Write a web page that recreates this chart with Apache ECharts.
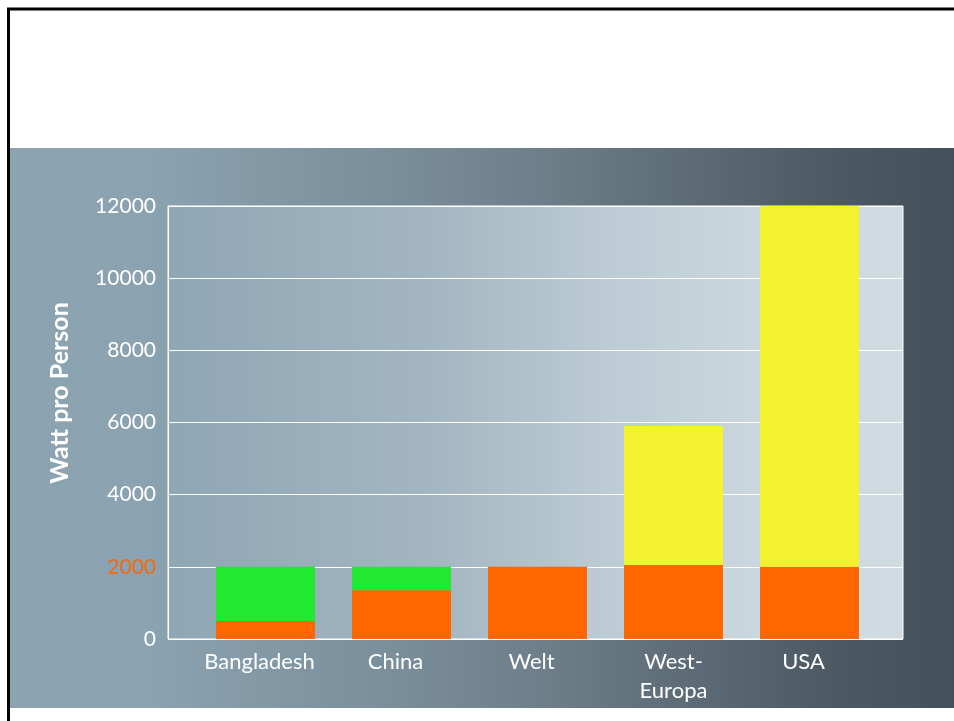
<!DOCTYPE html>
<html>
<head>
<meta charset="utf-8">
<script src="https://cdn.jsdelivr.net/npm/echarts@6/dist/echarts.min.js"></script>
<style>
html,body{margin:0;padding:0;background:#ffffff;}
#chart{width:954px;height:721px;}
</style>
</head>
<body>
<div id="chart"></div>
<script>
// ---- data ----
var categories = ['Bangladesh', 'China', 'Welt', 'West-\nEuropa', 'USA'];
var baseValues = [500, 1350, 2000, 2050, 2000];     // orange
var greenValues = [1500, 650, 0, 0, 0];             // green
var yellowValues = [0, 0, 0, 3850, 10000];          // yellow
var yTicks = [0, 2000, 4000, 6000, 8000, 10000, 12000];
var yAxisTitle = 'Watt pro Person';

var FONT = 'Lato, "Open Sans", sans-serif';
var chart = echarts.init(document.getElementById('chart'), null, {renderer: 'canvas'});

var option = {
  animation: false,
  backgroundColor: '#ffffff',
  graphic: [
    {
      type: 'rect', z: -10, silent: true,
      shape: {x: 9, y: 148, width: 945, height: 560},
      style: {
        fill: new echarts.graphic.LinearGradient(0, 0, 1, 0, [
          {offset: 0, color: '#8ca3b1'},
          {offset: 0.15, color: '#8ba2b0'},
          {offset: 0.42, color: '#798d99'},
          {offset: 0.58, color: '#6c7d88'},
          {offset: 0.74, color: '#5a6973'},
          {offset: 0.90, color: '#4a5660'},
          {offset: 1, color: '#45515a'}
        ])
      }
    },
    {
      type: 'line', z: 10, silent: true,
      shape: {x1: 7, y1: 9, x2: 954, y2: 9},
      style: {stroke: '#000000', lineWidth: 3}
    },
    {
      type: 'line', z: 10, silent: true,
      shape: {x1: 8.5, y1: 8, x2: 8.5, y2: 721},
      style: {stroke: '#000000', lineWidth: 3}
    },
    {
      type: 'text', z: 10, silent: true,
      x: 60, y: 393, rotation: Math.PI / 2,
      style: {
        text: yAxisTitle, fill: '#ffffff',
        font: 'bold 25px ' + FONT,
        textAlign: 'center', textVerticalAlign: 'middle'
      }
    }
  ],
  grid: [
    {
      left: 168, right: 51, top: 206, bottom: 82,
      show: true,
      borderColor: '#ffffff', borderWidth: 1,
      backgroundColor: new echarts.graphic.LinearGradient(0, 0, 1, 0, [
        {offset: 0, color: '#8fa6b4'},
        {offset: 0.35, color: '#a3b5c1'},
        {offset: 0.6, color: '#bccbd4'},
        {offset: 0.82, color: '#ccd8df'},
        {offset: 1, color: '#d0dbe2'}
      ])
    },
    {left: 197.5, right: 76.5, top: 206, bottom: 82}
  ],
  xAxis: [
    {
      gridIndex: 0, type: 'value', min: 0, max: 1, show: false
    },
    {
      gridIndex: 1, type: 'category', data: categories,
      axisLine: {show: false}, axisTick: {show: false},
      axisLabel: {
        color: '#ffffff', fontFamily: FONT, fontSize: 22,
        margin: 8, lineHeight: 29, interval: 0,
        formatter: function (v) {
          if (v.indexOf('\n') >= 0) {
            return v.split('\n').map(function (s) { return '{c|' + s + '}'; }).join('\n');
          }
          return '{s|' + v + '}';
        },
        rich: {
          s: {color: '#ffffff', fontFamily: FONT, fontSize: 22, lineHeight: 29, padding: [0, 12, 0, 0]},
          c: {color: '#ffffff', fontFamily: FONT, fontSize: 22, lineHeight: 29}
        }
      }
    }
  ],
  yAxis: [
    {
      gridIndex: 0, type: 'value', min: 0, max: 12000, interval: 2000,
      axisLine: {show: true, lineStyle: {color: '#ffffff'}},
      axisTick: {show: false},
      splitLine: {show: true, lineStyle: {color: '#ffffff', width: 1}},
      axisLabel: {
        margin: 12, fontFamily: FONT, fontSize: 21, color: '#ffffff',
        formatter: function (v) {
          return v === yTicks[1] ? '{o|' + v + '}' : '{w|' + v + '}';
        },
        rich: {
          o: {color: '#f26a10', fontFamily: FONT, fontSize: 21},
          w: {color: '#ffffff', fontFamily: FONT, fontSize: 21}
        }
      }
    },
    {
      gridIndex: 1, type: 'value', min: 0, max: 12000, interval: 2000, show: false
    }
  ],
  series: [
    {
      name: 'Basis', type: 'bar', stack: 'total',
      xAxisIndex: 1, yAxisIndex: 1,
      barWidth: 99, data: baseValues,
      itemStyle: {color: '#ff6600'}
    },
    {
      name: 'Grün', type: 'bar', stack: 'total',
      xAxisIndex: 1, yAxisIndex: 1,
      barWidth: 99, data: greenValues,
      itemStyle: {color: '#22e832'}
    },
    {
      name: 'Gelb', type: 'bar', stack: 'total',
      xAxisIndex: 1, yAxisIndex: 1,
      barWidth: 99, data: yellowValues,
      itemStyle: {color: '#f2f22e'}
    }
  ]
};
chart.setOption(option);
</script>
</body>
</html>
